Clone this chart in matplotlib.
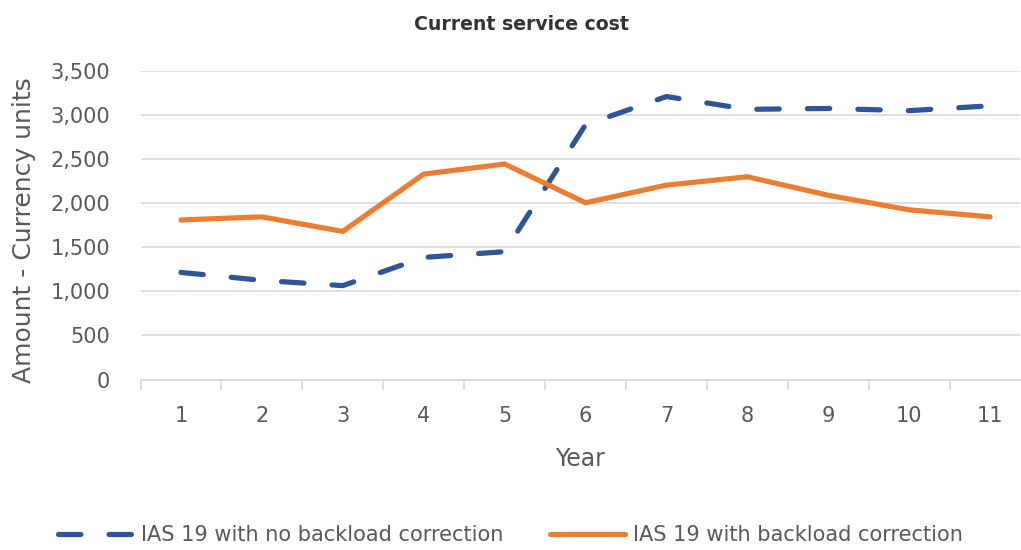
import matplotlib.pyplot as plt
from matplotlib.ticker import FuncFormatter, FixedLocator

years = [1, 2, 3, 4, 5, 6, 7, 8, 9, 10, 11]
no_correction = [1215, 1125, 1065, 1385, 1450, 2890, 3210, 3065, 3075, 3050, 3105]
with_correction = [1810, 1845, 1680, 2330, 2445, 2005, 2205, 2300, 2090, 1925, 1845]

BLUE = "#2E5597"
ORANGE = "#ED7D31"
GREY = "#595959"
GRID = "#D9D9D9"

plt.rcParams['font.family'] = ['DejaVu Sans']

fig = plt.figure(figsize=(10.21, 5.5), dpi=100)
ax = fig.add_axes([140.5 / 1021, 1 - 379.5 / 550, (1020 - 140.5) / 1021, (379.5 - 71) / 550])

ax.plot(years, no_correction, color=BLUE, lw=3.75, dashes=(4.3, 5.4),
        dash_capstyle='round', solid_capstyle='round',
        label="IAS 19 with no backload correction")
ax.plot(years, with_correction, color=ORANGE, lw=3.75, solid_capstyle='round',
        solid_joinstyle='miter', label="IAS 19 with backload correction")

ax.set_ylim(0, 3500)
ax.set_xlim(0.5, 11.37)
ax.set_yticks(range(0, 3501, 500))
ax.yaxis.set_major_formatter(FuncFormatter(lambda v, p: f"{int(v):,}"))
ax.grid(axis='y', color=GRID, lw=1.2)
ax.set_axisbelow(True)

# category boundaries as tick marks, labels at the centres
ax.xaxis.set_major_locator(FixedLocator([y - 0.5 for y in years] + [11.5]))
ax.xaxis.set_minor_locator(FixedLocator(years))
ax.set_xticklabels([])
ax.set_xticklabels([str(y) for y in years], minor=True)
ax.tick_params(axis='x', which='major', length=7, color=GRID, width=1.2)
ax.tick_params(axis='x', which='minor', length=0, pad=19, labelsize=15, labelcolor=GREY)
ax.tick_params(axis='y', length=0, pad=22, labelsize=15, labelcolor=GREY)

for s in ['top', 'right', 'left']:
    ax.spines[s].set_visible(False)
ax.spines['bottom'].set_color(GRID)
ax.spines['bottom'].set_linewidth(1.2)

ax.set_xlabel("Year", fontsize=17, color=GREY, labelpad=15)
ax.set_ylabel("Amount - Currency units", fontsize=18, color=GREY, labelpad=8)
ax.yaxis.set_label_coords(-0.119, 0.485)

fig.text(0.511, 1 - 25 / 550, "Current service cost", ha='center', va='center',
         fontsize=13.6, fontweight='bold', color="#333333")

fig.legend(loc='center', bbox_to_anchor=(0.5, 1 - 535 / 550), ncol=2, frameon=False,
           fontsize=15, labelcolor=GREY, handlelength=3.6, columnspacing=2.2,
           handletextpad=0.4)

fig.savefig("out.png", dpi=100)
